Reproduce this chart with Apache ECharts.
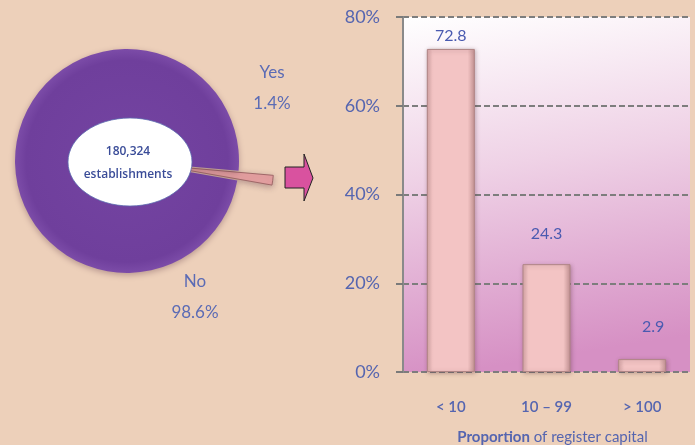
<!DOCTYPE html>
<html>
<head>
<meta charset="utf-8">
<script src="https://cdn.jsdelivr.net/npm/echarts@6/dist/echarts.min.js"></script>
<style>
  html, body { margin: 0; padding: 0; background: #edd0ba; }
  #chart { width: 695px; height: 445px; }
</style>
</head>
<body>
<div id="chart"></div>
<script>
// pie: registered or not
const pieNames = ["Yes", "No"];
const pieValues = [1.4, 98.6];
const totalText = "180,324";
const totalUnit = "establishments";

// bars: share by register capital
const capitalCats = ["< 10", "10 – 99", "> 100"];
const capitalShare = [72.8, 24.3, 2.9];
const yTicks = [0, 20, 40, 60, 80];

const blue = "#5565b0";
const chart = echarts.init(document.getElementById("chart"));

// label spots for the pie (layout only)
const pieLabelPos = [[272, 88], [195, 297]];

const pieLabels = pieNames.map((n, i) => ({
  type: "text",
  x: pieLabelPos[i][0],
  y: pieLabelPos[i][1],
  style: {
    text: n + "\n" + pieValues[i] + "%",
    fill: "#5b6bb5",
    font: "17px Lato",
    lineHeight: 31,
    align: "center",
    verticalAlign: "middle"
  },
  z: 100
}));

chart.setOption({
  backgroundColor: "#edd0ba",
  animation: false,
  grid: {
    left: 403,
    right: 5,
    top: 17,
    bottom: 73,
    outerBoundsMode: "none",
    containLabel: false,
    show: true,
    borderWidth: 0,
    backgroundColor: new echarts.graphic.LinearGradient(0, 0, 0.2, 1, [
      { offset: 0, color: "#ffffff" },
      { offset: 0.45, color: "#efd2e6" },
      { offset: 1, color: "#d690c4" }
    ])
  },
  xAxis: {
    type: "category",
    data: capitalCats,
    axisLine: { show: false },
    axisTick: { show: false },
    axisLabel: {
      margin: 28,
      fontFamily: "Lato",
      fontSize: 15,
      color: blue,
      fontWeight: 600
    },
    name: "{b|Proportion} of register capital",
    nameLocation: "middle",
    nameGap: 58,
    nameTextStyle: {
      color: blue,
      fontFamily: "Lato",
      fontSize: 15,
      padding: [0, 0, 0, 12],
      rich: {
        b: { color: blue, fontFamily: "Lato", fontSize: 15, fontWeight: "bold" }
      }
    }
  },
  yAxis: {
    type: "value",
    min: yTicks[0],
    max: yTicks[yTicks.length - 1],
    interval: 20,
    axisLine: { show: true, lineStyle: { color: "#8a8a8a", width: 2 } },
    axisTick: { show: true, length: 7, lineStyle: { color: "#7a7a7a", width: 2 } },
    axisLabel: {
      formatter: "{value}%",
      margin: 23,
      fontFamily: "Lato",
      fontSize: 18,
      color: blue
    },
    splitLine: {
      show: true,
      lineStyle: { color: "#7d7d7d", width: 2, type: [6, 3] }
    }
  },
  series: [
    {
      type: "bar",
      barWidth: 48,
      data: capitalShare.map((v, i) => ({
        value: v,
        label: i === 0 ? { distance: 5 } : i === 2 ? { distance: 24, offset: [11, 0] } : { distance: 22 }
      })),
      itemStyle: {
        color: new echarts.graphic.LinearGradient(0, 0, 1, 0, [
          { offset: 0, color: "#d9a9a9" },
          { offset: 0.12, color: "#f3c4c4" },
          { offset: 0.85, color: "#f3c4c4" },
          { offset: 1, color: "#c49494" }
        ]),
        borderColor: "#b08585",
        borderWidth: 1,
        shadowColor: "rgba(90,50,60,0.35)",
        shadowBlur: 4,
        shadowOffsetX: 1,
        shadowOffsetY: 1
      },
      label: {
        show: true,
        position: "top",
        fontFamily: "Lato",
        fontSize: 16,
        color: "#4a5ab0"
      }
    },
    {
      type: "pie",
      center: [127, 161],
      radius: 112,
      startAngle: -5,
      clockwise: true,
      selectedMode: "single",
      selectedOffset: 35,
      data: pieNames.map((n, i) => ({
        name: n,
        value: pieValues[i],
        selected: i === 0,
        itemStyle: i === 0
          ? { color: "#e8a3a3", borderColor: "#a06868", borderWidth: 1 }
          : {
              color: new echarts.graphic.RadialGradient(0.5, 0.5, 0.5, [
                { offset: 0, color: "#7444a2" },
                { offset: 0.9, color: "#6f3f9c" },
                { offset: 1, color: "#7c4ca8" }
              ])
            }
      })),
      itemStyle: {
        shadowColor: "rgba(80,40,60,0.35)",
        shadowBlur: 6,
        shadowOffsetY: 2
      },
      label: { show: false },
      labelLine: { show: false },
      emphasis: { disabled: true }
    }
  ],
  graphic: [
    {
      type: "ellipse",
      shape: { cx: 130, cy: 162, rx: 62, ry: 44 },
      style: { fill: "#ffffff", stroke: "#5c6bb0", lineWidth: 0.8 },
      z: 100
    },
    {
      type: "text",
      x: 128,
      y: 152,
      style: {
        text: totalText,
        fill: "#3a4c98",
        font: "600 12px 'Open Sans'",
        align: "center",
        verticalAlign: "middle"
      },
      z: 101
    },
    {
      type: "text",
      x: 128,
      y: 175,
      style: {
        text: totalUnit,
        fill: "#3a4c98",
        font: "600 12px 'Open Sans'",
        align: "center",
        verticalAlign: "middle"
      },
      z: 101
    },
    {
      type: "polygon",
      shape: {
        points: [[285, 167], [304, 167], [304, 154], [313, 178], [304, 201], [304, 188], [285, 188]]
      },
      style: { fill: "#d9529f", stroke: "#222", lineWidth: 1 },
      z: 100
    }
  ].concat(pieLabels)
});
</script>
</body>
</html>
